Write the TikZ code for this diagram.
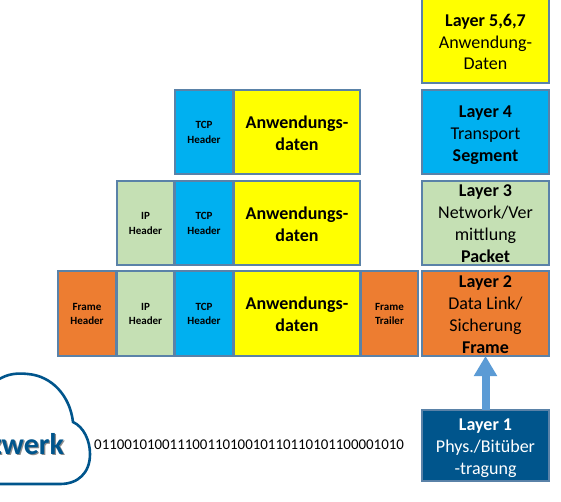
\documentclass[tikz,border=0pt]{standalone}
\usepackage{fontspec}
\setmainfont{Carlito}
\usetikzlibrary{arrows.meta,calc}
\definecolor{edgeblue}{HTML}{5A82A8}
\definecolor{orangeb}{HTML}{ED7D31}
\definecolor{greenb}{HTML}{C5E0B4}
\definecolor{cyanb}{HTML}{00B0F0}
\definecolor{yellowb}{HTML}{FFFF00}
\definecolor{navyb}{HTML}{00558C}
\definecolor{arrowb}{HTML}{5B9BD5}
\tikzset{
  cell/.style={draw=edgeblue,line width=1.4pt,inner sep=0pt,outer sep=0pt},
  captext/.style={inner sep=0pt,align=center,text=black},
  smalltext/.style={captext,font=\fontsize{11}{14.6}\selectfont\bfseries},
  bigtext/.style={captext,font=\fontsize{18}{21.5}\selectfont\bfseries},
  layertext/.style={captext,font=\fontsize{18}{21.9}\selectfont},
}
% name, x1, y1, x2, y2, fill, text style, text shift, text
\newcommand{\cellbox}[9]{%
  \node[cell,fill=#6,minimum width={(#4-#2)*1pt},minimum height={(#5-#3)*1pt}]
    (#1) at ({(#2+#4)/2},{(#3+#5)/2}) {};
  \node[#7] (#1text) at ($(#1.center)+(0,#8)$) {#9};}
\begin{document}
\begin{tikzpicture}[x=1pt,y=-1pt]
\useasboundingbox (0,0) rectangle (561,501);
% cloud
\begin{scope}
\clip (0,0) rectangle (561,501);
\draw[navyb,line width=2.6pt]
  (-4,381) .. controls (8,373) and (18,373) .. (28,374)
  .. controls (52,376) and (70,396) .. (73,422)
  .. controls (84,427) and (90,441) .. (90,454)
  .. controls (90,473) and (78,484) .. (60,484)
  -- (-4,484);
\node[anchor=base east,text=black!45,font=\fontsize{30}{30}\selectfont\bfseries] (shadow) at (68.8,455.8) {zwerk};
\node[anchor=base east,text=navyb,font=\fontsize{30}{30}\selectfont\bfseries] (cloudtext) at (67.5,454.5) {zwerk};
\end{scope}
\node[anchor=west,inner sep=0pt,text=black,font=\fontsize{14.9}{16}\selectfont] (bits) at (94,445) {01100101001110011010010110110101100001010};
% segment row
\cellbox{t4}{175}{90}{233}{174}{cyanb}{smalltext}{0.5}{TCP\\Header}
\cellbox{d4}{234}{90}{360}{174}{yellowb}{bigtext}{1}{Anwendungs-\\daten}
% packet row
\cellbox{i3}{117}{181}{174}{265}{greenb}{smalltext}{0.5}{IP\\Header}
\cellbox{t3}{175}{181}{233}{265}{cyanb}{smalltext}{0.5}{TCP\\Header}
\cellbox{d3}{234}{181}{360}{265}{yellowb}{bigtext}{1}{Anwendungs-\\daten}
% frame row
\cellbox{f2}{58}{271}{116}{356}{orangeb}{smalltext}{0.5}{Frame\\Header}
\cellbox{i2}{117}{271}{174}{356}{greenb}{smalltext}{0.5}{IP\\Header}
\cellbox{t2}{175}{271}{233}{356}{cyanb}{smalltext}{0.5}{TCP\\Header}
\cellbox{d2}{234}{271}{360}{356}{yellowb}{bigtext}{0.5}{Anwendungs-\\daten}
\cellbox{r2}{361}{271}{418}{356}{orangeb}{smalltext}{0.5}{Frame\\Trailer}
% layers
\cellbox{L7}{422}{-1}{549}{83}{yellowb}{layertext}{1}{\textbf{Layer 5,6,7}\\Anwendung-\\Daten}
\cellbox{L4}{422}{90}{549}{174}{cyanb}{layertext}{3.5}{\textbf{Layer 4}\\Transport\\\textbf{Segment}}
\cellbox{L3}{422}{181}{549}{265}{greenb}{layertext}{0.5}{\textbf{Layer 3}\\Network/Ver\\mittlung\\\textbf{Packet}}
\cellbox{L2}{422}{271}{549}{356}{orangeb}{layertext}{1}{\textbf{Layer 2}\\Data Link/\\Sicherung\\\textbf{Frame}}
\cellbox{L1}{422}{410}{549}{481}{navyb}{layertext,text=white}{3}{\textbf{Layer 1}\\Phys./Bitüber\\-tragung}
\draw[arrowb,line width=8pt,-{Triangle[width=22pt,length=20pt]}] (L1.north) -- (L2.south);
\end{tikzpicture}
\end{document}
